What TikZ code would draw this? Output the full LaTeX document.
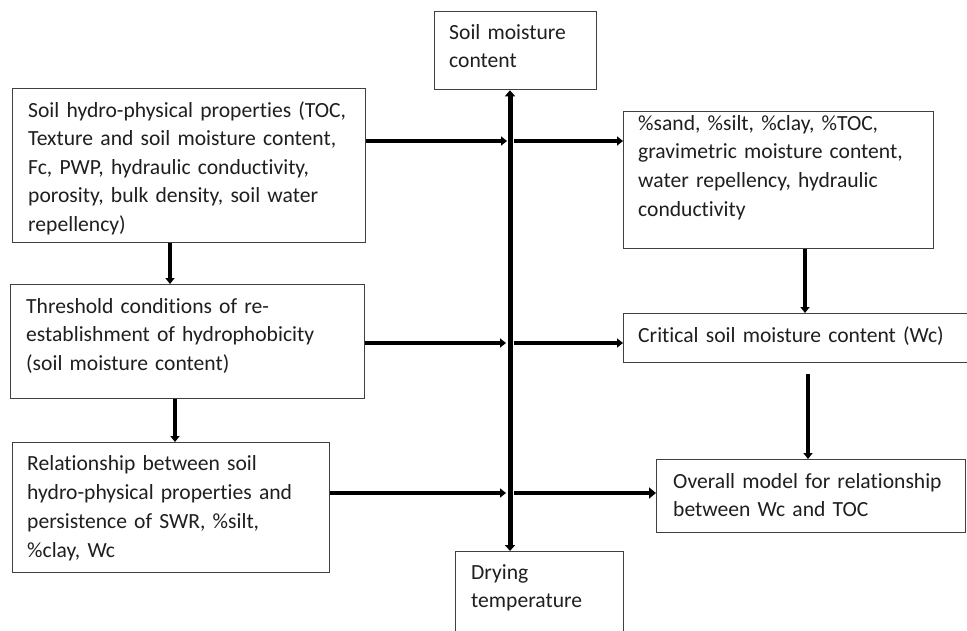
\documentclass[tikz,border=0pt]{standalone}
\usepackage{fontspec}
\setmainfont{Carlito}[Ligatures=NoCommon]
\usetikzlibrary{arrows.meta,calc}
\begin{document}
\begin{tikzpicture}[x=1pt,y=-1pt,
  box/.style={draw=black!75, line width=1.3pt, inner sep=0pt, anchor=north west},
  txt/.style={anchor=base west, inner sep=0pt, align=left, text width=420pt, text=black!88, font=\fontsize{21.6}{28.8}\selectfont},
  arr/.style={line width=4pt, -{Triangle[length=6pt,width=9pt]}},
  bigarr/.style={line width=4.5pt, -{Triangle[length=7pt,width=11pt]}},
  ]
\useasboundingbox[fill=white] (0,0) rectangle (967,630);
% boxes
\node[box, minimum width=162pt, minimum height=78pt] (sm) at (434,11) {};
\node[box, minimum width=353pt, minimum height=154pt] (b1) at (12,88) {};
\node[box, minimum width=354pt, minimum height=114pt] (b2) at (10,284) {};
\node[box, minimum width=317pt, minimum height=130pt] (b3) at (12,442) {};
\node[box, minimum width=310pt, minimum height=137pt] (rb1) at (623,111) {};
\node[box, minimum width=360pt, minimum height=49pt] (crit) at (623,313) {};
\node[box, minimum width=309pt, minimum height=73pt] (over) at (656,459) {};
\node[box, minimum width=168pt, minimum height=100pt] (dry) at (455,551) {};
% texts
\node[txt] (tsm) at (449,39) {Soil moisture\\content};
\begin{scope}
\clip (12,88) rectangle (365,234.5);
\node[txt, font=\fontsize{21.6}{28.5}\selectfont] (tb1) at (28,117) {Soil hydro-physical properties (TOC,\\Texture and soil moisture content,\\Fc, PWP, hydraulic conductivity,\\porosity, bulk density, soil water\\repellency)};
\end{scope}
\node[txt] (tb2) at (26,313) {Threshold conditions of re-\\establishment of hydrophobicity\\(soil moisture content)};
\node[txt, font=\fontsize{21.6}{29.3}\selectfont] (tb3) at (27,470) {Relationship between soil\\hydro-physical properties and\\persistence of SWR, \%silt,\\\%clay, Wc};
\node[txt] (trb1) at (638,130) {\%sand, \%silt, \%clay, \%TOC,\\gravimetric moisture content,\\water repellency, hydraulic\\conductivity};
\node[txt] (tcrit) at (638,342) {Critical soil moisture content (Wc)};
\node[txt] (tover) at (673,488) {Overall model for relationship\\between Wc and TOC};
\node[txt] (tdry) at (471,579) {Drying\\temperature};
% central vertical line
\coordinate (vx) at (510,0);
\draw[line width=5pt, {Triangle[length=6pt,width=10pt]}-{Triangle[length=6pt,width=10pt]}] (vx |- sm.south) -- (vx |- dry.north);
% horizontal rows
\coordinate (r1a) at (507,141);
\coordinate (r1b) at (514,141);
\coordinate (r2a) at (506,343);
\coordinate (r2b) at (514,343);
\coordinate (r3a) at (506,493);
\coordinate (r3b) at (514,493);
\draw[arr] (r1a -| b1.east) -- (r1a);
\draw[arr] (r1b) -- (r1b -| rb1.west);
\draw[arr] (r2a -| b2.east) -- (r2a);
\draw[arr] (r2b) -- (r2b -| crit.west);
\draw[arr] (r3a -| b3.east) -- (r3a);
\draw[bigarr] (r3b) -- (r3b -| over.west);
% vertical arrows
\coordinate (v1) at (170,0);
\coordinate (v2) at (175,0);
\coordinate (v3) at (805,0);
\coordinate (v4) at (808,374);
\draw[arr] (v1 |- b1.south) -- (v1 |- b2.north);
\draw[arr] (v2 |- b2.south) -- (v2 |- b3.north);
\draw[arr] (v3 |- rb1.south) -- (v3 |- crit.north);
\draw[arr] (v4) -- (v4 |- over.north);
\end{tikzpicture}
\end{document}
